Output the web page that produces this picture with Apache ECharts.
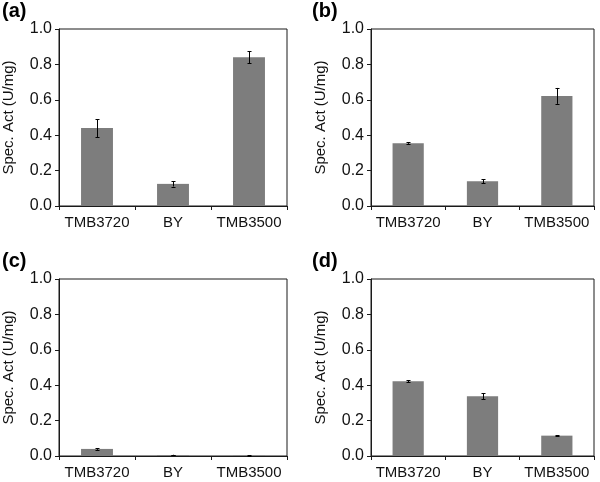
<!DOCTYPE html>
<html>
<head>
<meta charset="utf-8">
<script src="https://cdn.jsdelivr.net/npm/echarts@6/dist/echarts.min.js"></script>
<style>html,body{margin:0;padding:0;background:#fff;}#c{width:600px;height:482px;}</style>
</head>
<body>
<div id="c"></div>
<script>
const categories = ['TMB3720', 'BY', 'TMB3500'];
const panelLabels = ['(a)', '(b)', '(c)', '(d)'];
const yTitle = 'Spec. Act (U/mg)';
const valuesA = [0.44, 0.125, 0.84];
const errorsA = [0.05, 0.015, 0.033];
const valuesB = [0.355, 0.14, 0.622];
const errorsB = [0.004, 0.012, 0.045];
const valuesC = [0.04, 0.005, 0.002];
const errorsC = [0.005, 0.002, 0.001];
const valuesD = [0.422, 0.338, 0.115];
const errorsD = [0.005, 0.016, 0.003];

const panels = [
  {vals: valuesA, errs: errorsA},
  {vals: valuesB, errs: errorsB},
  {vals: valuesC, errs: errorsC},
  {vals: valuesD, errs: errorsD}
];
const grids = [
  {left: 59, top: 29, width: 228, height: 177},
  {left: 371, top: 29, width: 223, height: 177},
  {left: 59, top: 279, width: 228, height: 177},
  {left: 371, top: 279, width: 223, height: 177}
];
const labelPos = [
  {left: 2, top: 1}, {left: 312, top: 1}, {left: 2, top: 251}, {left: 312, top: 251}
];
const FONT = '"Liberation Sans", Arial, sans-serif';
const AX = '#1a1a1a';

const option = {
  animation: false,
  backgroundColor: '#fff',
  title: panelLabels.map((t, i) => ({
    text: t, left: labelPos[i].left, top: labelPos[i].top, padding: 0,
    textStyle: {fontFamily: FONT, fontWeight: 'bold', fontSize: 20, color: '#000'}
  })),
  grid: grids.map(g => Object.assign({show: true, borderColor: AX, borderWidth: 1, backgroundColor: 'transparent'}, g)),
  xAxis: grids.map((g, i) => ({
    type: 'category', gridIndex: i, data: categories,
    axisLine: {show: true, lineStyle: {color: AX, width: 1}},
    axisTick: {show: true, alignWithLabel: false, interval: 0, length: 4, lineStyle: {color: AX}},
    axisLabel: {interval: 0, margin: 9, fontFamily: FONT, fontSize: 15, color: '#111'},
    splitLine: {show: false}
  })),
  yAxis: grids.map((g, i) => ({
    type: 'value', gridIndex: i, min: 0, max: 1, interval: 0.2,
    name: yTitle, nameLocation: 'middle', nameRotate: 90, nameGap: 43,
    nameTextStyle: {fontFamily: FONT, fontSize: 15, color: '#111'},
    axisLine: {show: true, lineStyle: {color: AX, width: 1}},
    axisTick: {show: true, inside: false, length: 4, lineStyle: {color: AX}},
    axisLabel: {margin: 7, fontFamily: FONT, fontSize: 16, color: '#111', formatter: v => v.toFixed(1)},
    splitLine: {show: false}
  })),
  series: []
};

panels.forEach((p, i) => {
  option.series.push({
    type: 'bar', xAxisIndex: i, yAxisIndex: i, data: p.vals,
    barWidth: '42%', itemStyle: {color: '#7d7d7d'}, silent: true
  });
  option.series.push({
    type: 'custom', xAxisIndex: i, yAxisIndex: i, silent: true, z: 5,
    data: p.vals.map((v, j) => [j, v, p.errs[j]]),
    renderItem: function (params, api) {
      const c = api.value(0), v = api.value(1), e = api.value(2);
      const hi = api.coord([c, v + e]);
      const lo = api.coord([c, v - e]);
      const x = Math.round(hi[0]) + 0.5;
      const w = 2;
      const st = {stroke: '#000', lineWidth: 1};
      return {
        type: 'group',
        children: [
          {type: 'line', shape: {x1: x, y1: hi[1], x2: x, y2: lo[1]}, style: st},
          {type: 'line', shape: {x1: x - w, y1: Math.round(hi[1]) + 0.5, x2: x + w, y2: Math.round(hi[1]) + 0.5}, style: st},
          {type: 'line', shape: {x1: x - w, y1: Math.round(lo[1]) + 0.5, x2: x + w, y2: Math.round(lo[1]) + 0.5}, style: st}
        ]
      };
    }
  });
});

const chart = echarts.init(document.getElementById('c'), null, {renderer: 'canvas'});
chart.setOption(option);
</script>
</body>
</html>
